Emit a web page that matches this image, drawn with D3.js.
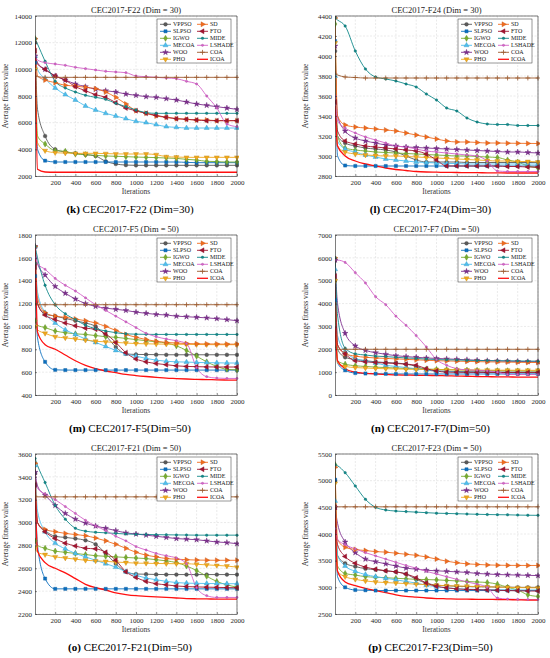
<!DOCTYPE html>
<html>
<head>
<meta charset="utf-8">
<script src="https://cdn.jsdelivr.net/npm/d3@7"></script>
<style>
  body { margin: 0; background: #fff; }
  svg { display: block; font-family: "Liberation Serif", "Times New Roman", serif; }
</style>
</head>
<body>
<svg id="chart" width="550" height="658"></svg>
<script>
const iters = [1, 25, 100, 200, 300, 400, 500, 600, 700, 800, 900, 1000, 1100, 1200, 1300, 1400, 1500, 1600, 1700, 1800, 1900, 2000];
const algos = ["VPPSO", "SLPSO", "IGWO", "MECOA", "WOO", "PHO", "SD", "FTO", "MIDE", "LSHADE", "COA", "ICOA"];
const colors = ["#5a5a5a", "#0b6fc0", "#77ac30", "#4dbeee", "#7e2f8e", "#f0a81c", "#f26b1d", "#a2142f", "#12898a", "#d462c8", "#9c5a2e", "#ff1010"];
const xTicks = [200, 400, 600, 800, 1000, 1200, 1400, 1600, 1800, 2000];

// rows follow algos order
const f22d30 = [
  [12000, 7000, 5000, 4000, 3800, 3700, 3600, 3500, 3100, 2900, 2820, 2800, 2800, 2800, 2800, 2800, 2800, 2800, 2800, 2800, 2800, 2800],
  [10500, 4000, 3150, 3050, 3050, 3050, 3050, 3050, 3050, 3050, 3050, 3050, 3050, 3050, 3050, 3050, 3020, 3000, 3000, 3000, 3000, 3000],
  [12300, 5000, 4400, 3900, 3850, 3650, 3600, 3550, 3500, 3480, 3450, 3420, 3400, 3380, 3350, 3320, 3250, 3200, 3100, 3080, 3050, 3050],
  [11000, 10000, 9300, 8600, 8100, 7700, 7250, 6950, 6700, 6500, 6300, 6100, 6000, 5850, 5700, 5650, 5600, 5600, 5600, 5600, 5600, 5600],
  [11000, 10500, 10000, 9500, 9200, 8900, 8700, 8500, 8400, 8300, 8150, 8050, 7950, 7900, 7800, 7700, 7550, 7400, 7300, 7200, 7100, 7000],
  [10000, 4500, 3900, 3750, 3720, 3700, 3700, 3700, 3680, 3660, 3650, 3650, 3650, 3600, 3450, 3420, 3400, 3400, 3400, 3400, 3400, 3400],
  [12300, 9500, 9200, 9000, 8800, 8750, 8650, 8550, 8300, 7900, 7400, 6900, 6700, 6500, 6400, 6300, 6250, 6200, 6200, 6150, 6150, 6150],
  [11400, 10400, 10000, 9500, 9200, 8700, 8400, 8100, 7900, 7500, 7100, 6900, 6700, 6550, 6400, 6300, 6250, 6200, 6150, 6150, 6150, 6150],
  [12300, 11900, 10600, 9100, 8600, 8300, 8050, 7900, 7750, 7450, 7200, 6950, 6750, 6700, 6700, 6700, 6700, 6700, 6700, 6700, 6700, 6700],
  [11000, 10700, 10500, 10400, 10300, 10150, 10050, 9950, 9850, 9800, 9750, 9500, 9450, 9400, 9350, 9300, 9100, 8900, 8000, 7100, 5900, 5700],
  [9500, 9450, 9400, 9400, 9400, 9400, 9400, 9400, 9400, 9400, 9400, 9400, 9400, 9400, 9400, 9400, 9400, 9400, 9400, 9400, 9400, 9400],
  [12000, 2500, 2300, 2280, 2280, 2280, 2280, 2280, 2280, 2280, 2280, 2280, 2280, 2280, 2280, 2280, 2280, 2280, 2280, 2280, 2280, 2280]
];

const f24d30 = [
  [4050, 3200, 3130, 3100, 3080, 3070, 3060, 3040, 3000, 2960, 2940, 2940, 2940, 2940, 2935, 2935, 2935, 2935, 2935, 2935, 2935, 2935],
  [4150, 3000, 2905, 2900, 2900, 2900, 2900, 2900, 2900, 2900, 2900, 2900, 2900, 2900, 2900, 2900, 2900, 2900, 2900, 2900, 2900, 2900],
  [4320, 3200, 3080, 3060, 3050, 3040, 3035, 3030, 3025, 3020, 3015, 3010, 3005, 3000, 3000, 2995, 2990, 2985, 2960, 2940, 2900, 2880],
  [3800, 3150, 3070, 3040, 3010, 2990, 2970, 2960, 2950, 2940, 2935, 2930, 2925, 2925, 2920, 2920, 2920, 2920, 2920, 2920, 2920, 2920],
  [4100, 3400, 3250, 3180, 3150, 3130, 3110, 3100, 3090, 3085, 3080, 3075, 3070, 3065, 3060, 3055, 3050, 3045, 3040, 3040, 3035, 3030],
  [4130, 3100, 3040, 3020, 3010, 3005, 3000, 3000, 2995, 2990, 2985, 2980, 2975, 2970, 2965, 2960, 2955, 2950, 2950, 2945, 2945, 2940],
  [4380, 3400, 3310, 3290, 3280, 3270, 3260, 3250, 3230, 3210, 3190, 3170, 3150, 3140, 3140, 3135, 3130, 3130, 3128, 3127, 3126, 3125],
  [3540, 3250, 3150, 3120, 3100, 3090, 3080, 3070, 3060, 3050, 3020, 2960, 2900, 2900, 2900, 2900, 2900, 2900, 2895, 2895, 2890, 2890],
  [4380, 4360, 4300, 4050, 3870, 3790, 3770, 3750, 3720, 3690, 3620, 3560, 3480, 3450, 3380, 3340, 3320, 3315, 3315, 3305, 3305, 3305],
  [3600, 3350, 3280, 3230, 3190, 3160, 3130, 3100, 3090, 3070, 3050, 3040, 3030, 3020, 3010, 3000, 2950, 2850, 2845, 2845, 2845, 2845],
  [3820, 3810, 3790, 3785, 3780, 3780, 3780, 3780, 3780, 3780, 3780, 3780, 3780, 3780, 3780, 3780, 3780, 3780, 3780, 3780, 3780, 3780],
  [3500, 3100, 3000, 2950, 2920, 2900, 2880, 2865, 2855, 2845, 2840, 2838, 2836, 2835, 2834, 2833, 2832, 2831, 2830, 2830, 2830, 2830]
];

const f5d50 = [
  [1550, 1200, 1110, 1090, 1070, 1050, 1030, 1000, 920, 820, 760, 755, 754, 753, 752, 752, 752, 752, 752, 752, 752, 752],
  [1440, 900, 690, 620, 618, 618, 618, 618, 618, 618, 618, 618, 618, 618, 618, 618, 618, 618, 618, 618, 618, 618],
  [1050, 1010, 990, 960, 945, 935, 930, 920, 910, 905, 895, 885, 875, 865, 855, 830, 790, 740, 690, 650, 625, 620],
  [1700, 1300, 1120, 1030, 970, 930, 890, 860, 825, 790, 760, 740, 720, 705, 695, 690, 688, 685, 683, 682, 680, 680],
  [1700, 1550, 1450, 1350, 1290, 1240, 1200, 1175, 1160, 1150, 1140, 1125, 1115, 1105, 1100, 1090, 1085, 1080, 1075, 1068, 1060, 1050],
  [1000, 970, 940, 910, 900, 890, 880, 870, 865, 860, 855, 850, 848, 846, 845, 844, 843, 842, 841, 840, 840, 840],
  [1700, 1250, 1120, 1090, 1080, 1065, 1050, 1030, 1000, 965, 930, 905, 885, 870, 860, 855, 850, 848, 847, 846, 845, 845],
  [1520, 1200, 1100, 1060, 1030, 1005, 985, 975, 935, 860, 770, 715, 690, 675, 665, 655, 650, 648, 646, 645, 645, 645],
  [1700, 1600, 1360, 1190, 1110, 1060, 1010, 980, 960, 945, 935, 932, 931, 930, 930, 930, 930, 930, 930, 930, 930, 930],
  [1600, 1550, 1500, 1420, 1360, 1310, 1250, 1190, 1140, 1090, 1040, 990, 940, 910, 890, 875, 850, 640, 560, 548, 545, 545],
  [1200, 1190, 1190, 1190, 1190, 1190, 1190, 1190, 1190, 1190, 1190, 1190, 1190, 1190, 1190, 1190, 1190, 1190, 1190, 1190, 1190, 1190],
  [1700, 950, 840, 800, 750, 700, 660, 630, 610, 595, 580, 570, 562, 555, 548, 544, 540, 537, 535, 533, 531, 530]
];

const f7d50 = [
  [5900, 2000, 1650, 1550, 1500, 1450, 1420, 1400, 1350, 1250, 1100, 1050, 1040, 1030, 1020, 1015, 1010, 1005, 1000, 1000, 1000, 1000],
  [4150, 1400, 1080, 960, 940, 930, 925, 922, 920, 920, 920, 920, 920, 920, 920, 920, 920, 920, 920, 920, 920, 920],
  [5000, 1500, 1350, 1280, 1250, 1220, 1200, 1180, 1160, 1150, 1140, 1120, 1110, 1100, 1090, 1080, 1070, 1065, 1060, 1055, 1050, 1050],
  [5500, 2600, 1900, 1600, 1500, 1400, 1300, 1250, 1200, 1150, 1100, 1050, 1030, 1010, 1000, 990, 980, 970, 965, 960, 955, 950],
  [5900, 4000, 2700, 2150, 1950, 1850, 1780, 1720, 1680, 1650, 1620, 1600, 1580, 1560, 1540, 1520, 1500, 1490, 1480, 1470, 1460, 1450],
  [5000, 1400, 1250, 1200, 1180, 1160, 1150, 1140, 1130, 1120, 1115, 1110, 1105, 1100, 1095, 1090, 1088, 1086, 1084, 1082, 1080, 1080],
  [6000, 2200, 1800, 1700, 1650, 1620, 1600, 1580, 1560, 1540, 1520, 1500, 1490, 1480, 1470, 1460, 1450, 1445, 1440, 1430, 1425, 1420],
  [5200, 2200, 1800, 1500, 1450, 1420, 1400, 1380, 1350, 1300, 1150, 1050, 1000, 995, 990, 988, 986, 985, 984, 982, 980, 980],
  [6000, 3500, 2050, 1800, 1750, 1700, 1680, 1650, 1620, 1600, 1570, 1550, 1540, 1530, 1520, 1510, 1505, 1500, 1495, 1490, 1485, 1480],
  [5900, 5900, 5800, 5350, 4900, 4300, 3950, 3450, 3050, 2600, 2100, 1550, 1300, 1150, 1100, 1080, 1060, 1000, 900, 900, 900, 900],
  [2100, 2000, 2000, 2000, 2000, 2000, 2000, 2000, 2000, 2000, 2000, 2000, 2000, 2000, 2000, 2000, 2000, 2000, 2000, 2000, 2000, 2000],
  [3000, 1500, 1150, 1000, 950, 920, 900, 880, 870, 860, 855, 850, 840, 830, 820, 810, 800, 795, 790, 785, 780, 780]
];

const f21d50 = [
  [3430, 3000, 2930, 2880, 2870, 2860, 2845, 2810, 2730, 2640, 2570, 2550, 2548, 2546, 2545, 2545, 2545, 2545, 2545, 2545, 2545, 2545],
  [3330, 2800, 2510, 2420, 2420, 2420, 2420, 2420, 2420, 2420, 2420, 2420, 2420, 2420, 2420, 2420, 2420, 2420, 2420, 2420, 2420, 2420],
  [2840, 2800, 2775, 2750, 2740, 2730, 2720, 2710, 2705, 2700, 2695, 2690, 2685, 2675, 2665, 2650, 2620, 2580, 2530, 2485, 2455, 2435],
  [3500, 3100, 2920, 2820, 2770, 2730, 2700, 2670, 2640, 2610, 2570, 2540, 2515, 2500, 2485, 2475, 2470, 2468, 2467, 2466, 2465, 2465],
  [3440, 3320, 3240, 3150, 3080, 3030, 2995, 2970, 2950, 2930, 2910, 2900, 2890, 2880, 2870, 2860, 2855, 2850, 2840, 2830, 2825, 2815],
  [2780, 2740, 2720, 2700, 2690, 2680, 2670, 2665, 2660, 2655, 2650, 2645, 2644, 2642, 2641, 2640, 2640, 2635, 2630, 2625, 2620, 2610],
  [3520, 3000, 2940, 2920, 2905, 2895, 2885, 2865, 2840, 2810, 2775, 2740, 2715, 2700, 2685, 2680, 2675, 2672, 2671, 2670, 2670, 2670],
  [3330, 3000, 2920, 2860, 2820, 2795, 2775, 2770, 2740, 2670, 2570, 2520, 2485, 2465, 2455, 2445, 2440, 2437, 2435, 2433, 2431, 2430],
  [3560, 3500, 3350, 3150, 3030, 2950, 2925, 2915, 2910, 2905, 2900, 2898, 2896, 2894, 2893, 2892, 2891, 2890, 2890, 2890, 2890, 2890],
  [3400, 3300, 3250, 3200, 3140, 3080, 3020, 2970, 2930, 2880, 2840, 2790, 2760, 2730, 2710, 2690, 2640, 2430, 2360, 2345, 2345, 2345],
  [3230, 3225, 3225, 3225, 3225, 3225, 3225, 3225, 3225, 3225, 3225, 3225, 3225, 3225, 3225, 3225, 3225, 3225, 3225, 3225, 3225, 3225],
  [3300, 2750, 2650, 2600, 2560, 2510, 2460, 2430, 2410, 2385, 2370, 2360, 2355, 2350, 2345, 2340, 2335, 2333, 2332, 2330, 2330, 2330]
];

const f23d50 = [
  [5000, 3600, 3450, 3390, 3350, 3330, 3310, 3290, 3250, 3150, 3080, 3040, 3030, 3020, 3015, 3010, 3010, 3005, 3005, 3000, 3000, 3000],
  [5020, 3200, 3000, 2950, 2945, 2940, 2940, 2940, 2940, 2940, 2940, 2940, 2940, 2940, 2940, 2940, 2940, 2940, 2940, 2940, 2940, 2940],
  [5300, 3400, 3260, 3230, 3200, 3190, 3180, 3170, 3160, 3150, 3145, 3140, 3130, 3120, 3110, 3100, 3090, 3060, 3000, 2950, 2860, 2830],
  [4620, 3600, 3400, 3300, 3240, 3200, 3170, 3140, 3110, 3080, 3040, 3010, 2990, 2975, 2965, 2960, 2958, 2956, 2954, 2952, 2950, 2950],
  [4500, 4200, 3850, 3650, 3530, 3480, 3440, 3400, 3360, 3340, 3320, 3310, 3300, 3290, 3280, 3260, 3250, 3240, 3235, 3230, 3225, 3220],
  [4950, 3300, 3200, 3150, 3120, 3100, 3090, 3080, 3070, 3060, 3050, 3040, 3030, 3025, 3020, 3015, 3010, 3005, 3000, 2995, 2992, 2990],
  [5250, 3900, 3750, 3710, 3690, 3670, 3660, 3640, 3620, 3600, 3570, 3530, 3490, 3460, 3440, 3430, 3420, 3415, 3412, 3411, 3410, 3410],
  [4500, 3800, 3580, 3450, 3380, 3340, 3310, 3290, 3250, 3180, 3080, 3020, 2990, 2970, 2960, 2955, 2950, 2945, 2940, 2935, 2932, 2930],
  [5300, 5280, 5150, 4900, 4650, 4500, 4450, 4430, 4420, 4410, 4400, 4390, 4385, 4380, 4375, 4370, 4365, 4362, 4360, 4355, 4352, 4350],
  [4100, 3900, 3800, 3720, 3650, 3590, 3530, 3470, 3410, 3360, 3300, 3250, 3200, 3150, 3100, 3060, 3000, 2800, 2780, 2775, 2772, 2770],
  [4510, 4510, 4510, 4510, 4510, 4510, 4510, 4510, 4510, 4510, 4510, 4510, 4510, 4510, 4510, 4510, 4510, 4510, 4510, 4510, 4510, 4510],
  [4300, 3300, 3100, 3030, 2980, 2940, 2900, 2860, 2830, 2815, 2800, 2790, 2785, 2780, 2778, 2776, 2774, 2772, 2770, 2765, 2762, 2760]
];

const panels = [
  { left: 35, top: 16, right: 237, bottom: 176, data: f22d30, yDomain: [2000, 14000], yTicks: d3.range(2000, 14001, 2000),
    title: "CEC2017-F22 (Dim = 30)", tag: "(k)", caption: " CEC2017-F22 (Dim=30)" },
  { left: 335, top: 16, right: 538, bottom: 176, data: f24d30, yDomain: [2800, 4400], yTicks: d3.range(2800, 4401, 200),
    title: "CEC2017-F24 (Dim = 30)", tag: "(l)", caption: " CEC2017-F24(Dim=30)" },
  { left: 35, top: 235, right: 237, bottom: 395, data: f5d50, yDomain: [400, 1800], yTicks: d3.range(400, 1801, 200),
    title: "CEC2017-F5 (Dim = 50)", tag: "(m)", caption: " CEC2017-F5(Dim=50)" },
  { left: 335, top: 235, right: 538, bottom: 395, data: f7d50, yDomain: [0, 7000], yTicks: d3.range(0, 7001, 1000),
    title: "CEC2017-F7 (Dim = 50)", tag: "(n)", caption: " CEC2017-F7(Dim=50)" },
  { left: 35, top: 454, right: 237, bottom: 614, data: f21d50, yDomain: [2200, 3600], yTicks: d3.range(2200, 3601, 200),
    title: "CEC2017-F21 (Dim = 50)", tag: "(o)", caption: " CEC2017-F21(Dim=50)" },
  { left: 335, top: 454, right: 538, bottom: 614, data: f23d50, yDomain: [2500, 5500], yTicks: d3.range(2500, 5501, 500),
    title: "CEC2017-F23 (Dim = 50)", tag: "(p)", caption: " CEC2017-F23(Dim=50)" }
];

const svg = d3.select("#chart");

// marker shapes per algorithm
function markerPath(i) {
  const tri = d3.symbol().type(d3.symbolTriangle).size(11)();
  switch (i) {
    case 0: return { d: d3.symbol().type(d3.symbolCircle).size(11)(), rot: 0 };
    case 1: return { d: d3.symbol().type(d3.symbolSquare).size(10)(), rot: 0 };
    case 2: return { d: d3.symbol().type(d3.symbolDiamond).size(11)(), rot: 0 };
    case 3: return { d: tri, rot: 0 };
    case 4: return { d: d3.symbol().type(d3.symbolStar).size(10)(), rot: 0 };
    case 5: return { d: tri, rot: 180 };
    case 6: return { d: tri, rot: 90 };
    case 7: return { d: tri, rot: -90 };
    case 8: return { d: d3.symbol().type(d3.symbolCircle).size(5)(), rot: 0 };
    case 9: return { d: d3.symbol().type(d3.symbolCircle).size(4)(), rot: 0 };
    case 10: return { d: d3.symbol().type(d3.symbolPlus).size(9)(), rot: 0, stroke: true };
    default: return null;
  }
}

function drawMarker(g, i, x, y) {
  const m = markerPath(i);
  if (!m) return;
  const p = g.append("path")
    .attr("d", m.d)
    .attr("transform", `translate(${x},${y}) rotate(${m.rot})`);
  if (m.stroke) {
    p.attr("fill", "none").attr("stroke", colors[i]).attr("stroke-width", 0.8);
  } else {
    p.attr("fill", colors[i]).attr("stroke", d3.color(colors[i]).darker(0.6)).attr("stroke-width", 0.4);
  }
}

panels.forEach((p, pi) => {
  const g = svg.append("g");
  const x = d3.scaleLinear().domain([0, 2000]).range([p.left, p.right]);
  const y = d3.scaleLinear().domain(p.yDomain).range([p.bottom, p.top]);

  // grid
  g.append("g").selectAll("line").data(xTicks).join("line")
    .attr("x1", d => x(d)).attr("x2", d => x(d))
    .attr("y1", p.top).attr("y2", p.bottom)
    .attr("stroke", "#d4d4d4").attr("stroke-width", 0.5).attr("stroke-dasharray", "2,1.5");
  g.append("g").selectAll("line").data(p.yTicks).join("line")
    .attr("x1", p.left).attr("x2", p.right)
    .attr("y1", d => y(d)).attr("y2", d => y(d))
    .attr("stroke", "#d4d4d4").attr("stroke-width", 0.5).attr("stroke-dasharray", "2,1.5");

  // clip
  const clipId = "clip" + pi;
  svg.append("clipPath").attr("id", clipId).append("rect")
    .attr("x", p.left).attr("y", p.top - 2)
    .attr("width", p.right - p.left + 2).attr("height", p.bottom - p.top + 2);

  const line = d3.line().x((d, k) => x(iters[k])).y(d => y(d)).curve(d3.curveMonotoneX);
  const plot = g.append("g").attr("clip-path", `url(#${clipId})`);

  p.data.forEach((vals, i) => {
    plot.append("path")
      .attr("d", line(vals))
      .attr("fill", "none")
      .attr("stroke", colors[i])
      .attr("stroke-width", i === 11 ? 1.3 : 0.9);
  });
  p.data.forEach((vals, i) => {
    vals.forEach((v, k) => {
      if (k === 1) return;
      drawMarker(plot, i, x(iters[k]), y(v));
    });
  });

  // axes
  const xAxis = g.append("g").attr("transform", `translate(0,${p.bottom})`)
    .call(d3.axisBottom(x).tickValues(xTicks).tickFormat(d3.format("d")).tickSizeInner(-2).tickSizeOuter(0).tickPadding(4));
  const yAxis = g.append("g").attr("transform", `translate(${p.left},0)`)
    .call(d3.axisLeft(y).tickValues(p.yTicks).tickFormat(d3.format("d")).tickSizeInner(-2).tickSizeOuter(0).tickPadding(3));
  [xAxis, yAxis].forEach(a => {
    a.select(".domain").attr("stroke", "#262626").attr("stroke-width", 0.6);
    a.selectAll(".tick line").attr("stroke", "#262626").attr("stroke-width", 0.5);
    a.selectAll(".tick text").attr("fill", "#262626").style("font-size", "7px")
      .style("font-family", "Liberation Serif");
  });
  // top and right frame
  g.append("line").attr("x1", p.left).attr("x2", p.right).attr("y1", p.top).attr("y2", p.top)
    .attr("stroke", "#262626").attr("stroke-width", 0.6);
  g.append("line").attr("x1", p.right).attr("x2", p.right).attr("y1", p.top).attr("y2", p.bottom)
    .attr("stroke", "#262626").attr("stroke-width", 0.6);

  const cx = (p.left + p.right) / 2;
  g.append("text").attr("x", cx).attr("y", p.top - 3).attr("text-anchor", "middle")
    .style("font-size", "8.5px").attr("fill", "#222").text(p.title);
  g.append("text").attr("x", cx).attr("y", p.bottom + 18).attr("text-anchor", "middle")
    .style("font-size", "7.5px").attr("fill", "#333").text("Iterations");
  g.append("text")
    .attr("transform", `translate(${p.left - 27},${(p.top + p.bottom) / 2}) rotate(-90)`)
    .attr("text-anchor", "middle").style("font-size", "7.5px").attr("fill", "#333")
    .text("Average fitness value");

  // caption
  const cap = g.append("text").attr("x", cx - 6).attr("y", p.bottom + 37).attr("text-anchor", "middle")
    .style("font-size", "11px").attr("fill", "#000");
  cap.append("tspan").style("font-weight", "bold").text(p.tag);
  cap.append("tspan").text(p.caption);

  // legend
  const lx = p.right - 80, ly = p.top + 3;
  const leg = g.append("g");
  leg.append("rect").attr("x", lx).attr("y", ly).attr("width", 74).attr("height", 44)
    .attr("fill", "#fff").attr("stroke", "#333").attr("stroke-width", 0.5);
  algos.forEach((name, i) => {
    const col = i < 6 ? 0 : 1;
    const row = i % 6;
    const x0 = lx + 3 + col * 37;
    const yy = ly + 5.3 + row * 7;
    leg.append("line").attr("x1", x0).attr("x2", x0 + 11).attr("y1", yy).attr("y2", yy)
      .attr("stroke", colors[i]).attr("stroke-width", i === 11 ? 1.3 : 0.9);
    drawMarker(leg, i, x0 + 5.5, yy);
    leg.append("text").attr("x", x0 + 13).attr("y", yy + 2.1)
      .style("font-size", "6px").attr("fill", "#222").text(name);
  });
});
</script>
</body>
</html>
